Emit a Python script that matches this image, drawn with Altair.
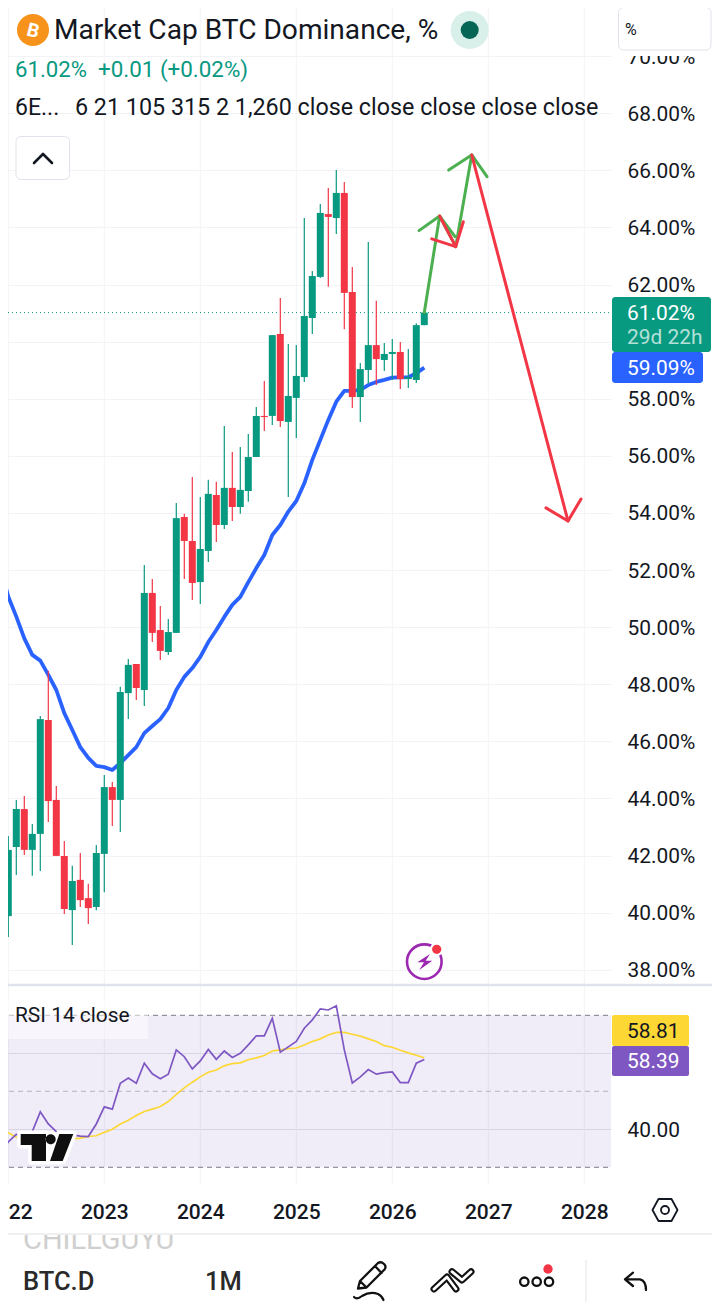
import altair as alt
import pandas as pd

# months counted from January 2023; the first candle is December 2021
months = list(range(-13, 41))
opens = [41.60,
         39.88, 42.30, 43.63, 42.20, 42.76, 46.75, 43.95, 41.99, 40.09, 41.15, 40.51, 40.20,
         42.06, 44.40, 43.95, 47.69, 48.71, 47.80, 51.20, 49.90, 49.13, 49.80, 53.86, 53.02,
         51.58, 52.67, 54.63, 53.58, 54.88, 54.21, 54.77, 55.96, 57.40, 57.40, 60.27, 57.19,
         58.03, 58.76, 60.83, 62.27, 64.47, 64.33, 65.21, 61.74, 58.06, 59.01, 59.88, 59.36,
         59.57, 59.64, 58.69, 58.66, 60.58]
closes = [39.99,
          42.20, 43.63, 42.20, 42.76, 46.78, 43.91, 41.99, 40.13, 41.11, 40.44, 40.16, 42.09,
          44.40, 43.95, 47.73, 48.68, 47.87, 51.20, 49.80, 49.17, 49.83, 53.82, 53.02, 51.55,
          52.74, 54.67, 53.58, 54.88, 54.21, 54.81, 55.96, 57.40, 57.36, 60.23, 57.22, 58.10,
          58.80, 60.90, 62.30, 64.51, 64.37, 65.21, 61.71, 58.06, 59.04, 59.88, 59.39, 59.57,
          59.64, 58.69, 58.76, 60.58, 61.02]
highs = [41.70,
         42.69, 43.95, 44.09, 43.11, 46.89, 48.47, 44.44, 42.51, 41.64, 42.09, 41.01, 42.37,
         44.82, 44.58, 47.91, 48.89, 48.71, 52.18, 51.69, 50.74, 50.29, 54.35, 53.97, 55.26,
         54.56, 55.16, 55.09, 57.05, 56.14, 56.31, 56.77, 57.71, 58.62, 60.23, 61.53, 59.92,
         59.88, 64.33, 62.48, 64.82, 65.38, 66.01, 65.59, 62.62, 59.25, 63.49, 61.43, 59.95,
         60.09, 59.99, 59.74, 60.65, 61.02]
lows = [39.90,
        39.15, 41.32, 42.02, 41.29, 41.46, 43.18, 41.99, 39.95, 38.87, 40.20, 39.60, 40.09,
        40.72, 43.04, 42.83, 46.78, 47.45, 47.24, 49.48, 48.85, 49.03, 49.80, 51.69, 50.95,
        50.81, 52.28, 52.98, 53.44, 53.72, 53.97, 54.39, 55.96, 56.87, 57.08, 57.01, 54.56,
        56.63, 58.59, 60.27, 62.23, 61.92, 63.77, 60.44, 57.68, 57.19, 58.52, 58.48, 58.97,
        58.66, 58.34, 58.38, 58.55, 60.58]
ma_blue = [52.11,
           51.07, 50.37, 49.61, 49.03, 48.83, 48.33, 47.80, 46.99, 46.40, 45.80, 45.42, 45.14,
           45.10, 45.00, 45.24, 45.52, 45.80, 46.29, 46.54, 46.78, 47.17, 47.80, 48.26, 48.57,
           48.96, 49.48, 49.90, 50.36, 50.78, 51.06, 51.58, 52.07, 52.53, 53.23, 53.58, 54.05,
           54.42, 55.04, 55.86, 56.56, 57.26, 57.90, 58.28, 58.28, 58.31, 58.48, 58.59, 58.66,
           58.74, 58.75, 58.76, 58.90, 59.09]
rsi = [33.2,
       36.7, 38.7, 37.5, 39.4, 44.6, 41.4, 39.4, 37.7, 38.5, 38.2, 38.1, 41.4,
       45.9, 45.3, 52.1, 53.5, 52.1, 57.4, 54.6, 53.3, 54.5, 60.9, 59.1, 55.9,
       58.0, 61.0, 58.4, 60.6, 58.9, 60.0, 62.2, 64.6, 64.6, 69.2, 60.3, 61.7,
       63.1, 66.6, 68.8, 71.7, 71.4, 72.5, 60.9, 52.2, 53.8, 55.7, 54.5, 54.9,
       55.1, 52.3, 52.3, 57.4, 58.39]
rsi_ma = [40.0,
          39.1, 37.9, 37.5, 37.2, 37.3, 37.4, 37.4, 37.4, 37.5, 37.7, 38.1, 38.3,
          39.2, 40.0, 41.4, 42.4, 43.6, 44.7, 45.3, 46.0, 47.3, 49.2, 50.9, 52.4,
          53.8, 55.0, 55.6, 56.7, 57.3, 57.5, 58.3, 58.8, 59.4, 60.6, 60.9, 61.2,
          61.4, 62.2, 63.1, 63.8, 64.8, 65.5, 65.5, 65.0, 64.5, 63.8, 63.1, 62.0,
          61.6, 60.8, 60.1, 59.5, 58.81]
year_ticks = [-12, 0, 12, 24, 36, 48, 60]
price_ticks = list(range(38, 72, 2))
last_price = 61.02

# hand-drawn arrows on the chart: month, percent
green_shaft = ([40.0, 41.92, 43.93, 45.93], [61.02, 64.40, 63.33, 66.54])
green_head_1 = ([39.34, 41.92, 43.84], [63.89, 64.40, 63.68])
green_head_2 = ([43.05, 45.93, 47.84], [66.01, 66.54, 65.78])
red_small = ([41.92, 43.93], [64.40, 63.33])
red_small_head = ([40.93, 43.93, 44.88], [63.60, 63.33, 64.20])
red_big = ([45.93, 57.96], [66.54, 53.72])
red_big_head = ([55.21, 57.96, 59.59], [54.18, 53.72, 54.49])

GREEN, RED, BLUE = "#089981", "#f23645", "#2962ff"
PURPLE, YELLOW = "#7e57c2", "#fdd835"
DRAW_GREEN, INK, GRID = "#4caf50", "#131722", "#f2f3f5"
FONT = "Roboto"

W, H = 611, 1312
x_scale = alt.Scale(domain=[-13.0375, 63.3375], nice=False, zero=False, padding=0)
p_scale = alt.Scale(domain=[26.014, 71.968], nice=False, zero=False)
r_scale = alt.Scale(domain=[-8.08, 337.18], nice=False, zero=False)


def X(field="m", axis=None):
    return alt.X(field, type="quantitative", scale=x_scale, axis=axis, title=None)


def PY(field, axis=None):
    return alt.Y(field, type="quantitative", scale=p_scale, axis=axis, title=None)


def RY(field, axis=None):
    return alt.Y(field, type="quantitative", scale=r_scale, axis=axis, title=None)


df = pd.DataFrame({
    "m": months, "o": opens, "h": highs, "l": lows, "c": closes,
    "blue": ma_blue, "rsi": rsi, "rsi_ma": rsi_ma,
})
df["dir"] = ["up" if c >= o else "down" for o, c in zip(opens, closes)]
dir_color = alt.Color("dir:N", scale=alt.Scale(domain=["up", "down"], range=[GREEN, RED]), legend=None)


def poly(pts, color, width=3):
    d = pd.DataFrame({"m": pts[0], "v": pts[1], "i": list(range(len(pts[0])))})
    return alt.Chart(d).mark_line(color=color, strokeWidth=width, strokeCap="round", strokeJoin="round").encode(
        x=X(), y=PY("v"), order="i:Q")


def box(x, x2, y, y2, fill, radius=0, stroke=None, opacity=1):
    kw = dict(fill=fill, opacity=opacity)
    if radius:
        kw["cornerRadius"] = radius
    if stroke:
        kw["stroke"] = stroke
        kw["strokeWidth"] = 1
    return alt.Chart().mark_rect(**kw).encode(
        x=alt.value(x), x2=alt.value(x2), y=alt.value(y), y2=alt.value(y2))


def txt(s, x, y, size, color=INK, weight=400, align="left", **kw):
    return alt.Chart().mark_text(text=s, font=FONT, fontSize=size, color=color, fontWeight=weight,
                                 align=align, baseline="middle", **kw).encode(
        x=alt.value(x), y=alt.value(y + 1))


def dot(x, y, r, fill):
    return alt.Chart().mark_point(shape="circle", filled=True, fill=fill, size=(2 * r) ** 2, opacity=1).encode(
        x=alt.value(x), y=alt.value(y))


def ring(x, y, r, color, width):
    return alt.Chart().mark_point(shape="circle", filled=False, stroke=color, strokeWidth=width,
                                  size=(2 * r) ** 2, opacity=1).encode(x=alt.value(x), y=alt.value(y))


def icon(path, x, y, stroke=INK, width=2.2, fill=None):
    kw = dict(shape=path, size=4, opacity=1, strokeCap="round", strokeJoin="round")
    if fill:
        kw.update(filled=True, fill=fill)
    else:
        kw.update(filled=False)
    if stroke:
        kw.update(stroke=stroke, strokeWidth=width)
    return alt.Chart().mark_point(**kw).encode(x=alt.value(x), y=alt.value(y))


def hrule(x, x2, y, color, width=1):
    return alt.Chart().mark_rule(color=color, strokeWidth=width).encode(
        x=alt.value(x), x2=alt.value(x2), y=alt.value(y))


# --- background: grid and axes ---
x_axis = alt.Axis(values=year_ticks, labelExpr="'' + (2023 + datum.value / 12)", grid=False, domain=False,
                  ticks=False, offset=-111, labelPadding=0, labelFont=FONT, labelFontSize=21,
                  labelFontWeight=500, labelColor=INK, labelFlush=False, labelOverlap=False, zindex=1)
v_grid = alt.Chart(pd.DataFrame({"m": year_ticks})).mark_rule(color=GRID, strokeWidth=1).encode(
    x=X("m", x_axis), y=alt.value(0), y2=alt.value(1185))

p_axis = alt.Axis(orient="right", values=price_ticks,
                  labelExpr="datum.value == 60 ? '' : format(datum.value, '.2f') + '%'", grid=True,
                  gridColor=GRID, domain=False, ticks=False, labelPadding=16, labelFont=FONT, labelOffset=1,
                  labelFontSize=20.9, labelColor=INK, labelOverlap=False, labelFlush=False)
dotted = alt.Chart(pd.DataFrame({"v": [last_price]})).mark_rule(
    color=GREEN, strokeWidth=1, strokeDash=[1, 3]).encode(x=alt.value(0), x2=alt.value(W), y=PY("v", p_axis))

r_axis = alt.Axis(orient="right", values=[60, 40],
                  labelExpr="datum.value == 60 ? '' : format(datum.value, '.2f')", grid=True,
                  gridColor="#e6e6ec", domain=False, ticks=False, labelPadding=16, labelFont=FONT, labelOffset=1,
                  labelFontSize=20.9, labelColor=INK, labelOverlap=False, labelFlush=False)
band = alt.Chart(pd.DataFrame({"a": [70], "b": [30]})).mark_rect(fill=PURPLE, opacity=0.115).encode(
    x=alt.value(0), x2=alt.value(W), y=RY("a", r_axis), y2=alt.Y2("b"))
dash_outer = alt.Chart(pd.DataFrame({"v": [70, 30]})).mark_rule(
    color="#787b86", strokeWidth=1, strokeDash=[5, 4]).encode(x=alt.value(0), x2=alt.value(W), y=RY("v"))
dash_mid = alt.Chart(pd.DataFrame({"v": [50]})).mark_rule(
    color="#b2b5be", strokeWidth=1, strokeDash=[5, 4]).encode(x=alt.value(0), x2=alt.value(W), y=RY("v"))

# --- series ---
blue_line = alt.Chart(df).mark_line(color=BLUE, strokeWidth=3.8, strokeJoin="round").encode(x=X(), y=PY("blue"))
wicks = alt.Chart(df).mark_rule(strokeWidth=1.2).encode(x=X(), y=PY("h"), y2=alt.Y2("l"), color=dir_color)
bodies = alt.Chart(df).mark_bar(size=7, orient="vertical").encode(x=X(), y=PY("o"), y2=alt.Y2("c"), color=dir_color)
rsi_line = alt.Chart(df).mark_line(color=PURPLE, strokeWidth=1.7).encode(x=X(), y=RY("rsi"))
rsi_ma_line = alt.Chart(df).mark_line(color=YELLOW, strokeWidth=1.7).encode(x=X(), y=RY("rsi_ma"))

arrows = [poly(green_shaft, DRAW_GREEN), poly(green_head_1, DRAW_GREEN), poly(green_head_2, DRAW_GREEN),
          poly(red_small, RED), poly(red_small_head, RED), poly(red_big, RED), poly(red_big_head, RED)]

# --- TradingView mark ---
tv_t = "M20.7 1134 L46 1134 L46 1161 L31.7 1161 L31.7 1145 L20.7 1145 Z"
tv_s = "M59.3 1134 L73.3 1134 L62.7 1161 L50 1161 Z"
tv_d = "M45.7 1139.3 A5 5 0 1 0 55.7 1139.3 A5 5 0 1 0 45.7 1139.3 Z"
tv = [icon(tv_t + " " + tv_s + " " + tv_d, 0, 0, stroke="#ffffff", width=7, fill="#ffffff"),
      icon(tv_t + " " + tv_s + " " + tv_d, 0, 0, stroke=None, fill="#0f0f0f")]

# --- overlays ---
overlays = [
    # top-right clip of the 70% label and the scale button
    box(612, 720, 0, 56, "#ffffff"),
    box(618.5, 711, 7.5, 50, "#ffffff", radius=5, stroke="#e0e3eb"),
    txt("%", 625, 29, 16),
    # header
    dot(33, 30, 16, "#f7931a"),
    txt("B", 33, 30, 19, color="#ffffff", weight=700, align="center", angle=14),
    txt("Market Cap BTC Dominance, %", 54, 30, 28.1),
    dot(469.7, 30, 19, "#d9efea"),
    dot(469.7, 30, 9, "#056656"),
    txt("61.02%", 15, 69, 22.2, color=GREEN),
    txt("+0.01 (+0.02%)", 98, 69, 22.4, color=GREEN),
    txt("6E...", 15, 107, 23),
    txt("6 21 105 315 2 1,260 close close close close close", 75, 107, 23.3),
    box(16, 69.5, 136.5, 179.5, "#ffffff", radius=5, stroke="#e0e3eb"),
    icon("M34 163 L43 154 L52 163", 0, 0, stroke="#131722", width=2.6),
    # price badges
    box(612, 711, 297, 352, GREEN, radius=3),
    txt("61.02%", 627, 313, 20.9, color="#ffffff"),
    txt("29d 22h", 627, 337, 20.9, color="#b5e0d8"),
    box(612, 703, 352, 383, BLUE, radius=3),
    txt("59.09%", 627, 367.5, 20.9, color="#ffffff"),
    # bolt badge
    ring(424.3, 961.7, 17.3, "#9c27b0", 2.6),
    icon("M430 954 L417.3 962.3 L424 962.3 L419.3 970 L432.3 960.7 L425.7 960.7 Z", 0, 0, stroke=None, fill="#9c27b0"),
    dot(436.7, 949.3, 6.8, "#ffffff"),
    dot(436.7, 949.3, 4.6, RED),
    # pane separators
    hrule(0, 720, 985, "#e0e3eb", 2.4),
    box(8, 148, 1000, 1039, "#ffffff", opacity=0.5),
    txt("RSI 14 close", 15, 1015, 20.9),
    box(612, 689, 1015, 1046, YELLOW, radius=2),
    txt("58.81", 627, 1031, 20.9),
    box(612, 689, 1046, 1076, PURPLE, radius=2),
    txt("58.39", 627, 1060.5, 20.9, color="#ffffff"),
    # settings hexagon
    icon("M658.5 1199 L671.5 1199 L677.5 1210 L671.5 1221 L658.5 1221 L652.5 1210 Z", 0, 0, width=1.8),
    ring(665, 1210, 4, INK, 1.8),
    # bottom bar
    txt("CHILLGUYU", 23, 1239, 29, color="#cfcfcf"),
    box(0, 720, 1224, 1234, "#ffffff"),
    hrule(0, 720, 1234, "#f0f0f0", 2),
    txt("BTC.D", 23, 1281, 25.5, color="#2a2a2a", weight=500),
    txt("1M", 205, 1281, 25.5, color="#2a2a2a", weight=500),
    icon("M358 1288.5 L360 1281 L378 1263 Q381 1261 384 1264 L384.5 1264.5 Q386.5 1267 384.5 1269.5 L366.5 1287.5 Z "
         "M375 1266 L381.5 1273 M360 1281 L366.5 1287.5", 0, 0, stroke="#111111", width=2.3),
    icon("M354 1297 Q357 1300 362 1296 Q370 1291 378 1294 Q382 1296 383.5 1300", 0, 0, stroke="#111111", width=2.2),
    icon("M434 1289 L447 1277 L456 1289 M452 1271.7 L462 1280 L471 1271.7", 0, 0, stroke="#111111", width=7),
    icon("M434 1289 L447 1277 L456 1289 M452 1271.7 L462 1280 L471 1271.7", 0, 0, stroke="#ffffff", width=2.8),
    ring(524.3, 1281.7, 4.2, "#111111", 2.3),
    ring(536.7, 1281.7, 4.2, "#111111", 2.3),
    ring(549, 1281.7, 4.2, "#111111", 2.3),
    dot(548, 1269, 4.7, RED),
    alt.Chart().mark_rule(color="#eeeeee", strokeWidth=1.5).encode(
        x=alt.value(586), y=alt.value(1260), y2=alt.value(1302)),
    icon("M625 1279.3 L633 1272.7 M625 1279.3 L633 1286 M625 1279.3 L640 1279.3 Q646 1280.7 646 1290", 0, 0,
         stroke="#111111", width=2.3),
]

chart = alt.layer(
    v_grid, dotted, band, dash_outer, dash_mid, blue_line, wicks, bodies,
    rsi_ma_line, rsi_line, *arrows, *tv, *overlays,
).resolve_scale(y="independent").resolve_axis(x="independent").properties(
    width=W,
    height=H,
    padding={"left": -8, "top": -8, "right": 101, "bottom": 0},
    autosize=alt.AutoSizeParams(type="none"),
    background="#ffffff",
).configure_view(stroke=None)

chart.save("out.html", embed_options={"renderer": "svg", "actions": False})
